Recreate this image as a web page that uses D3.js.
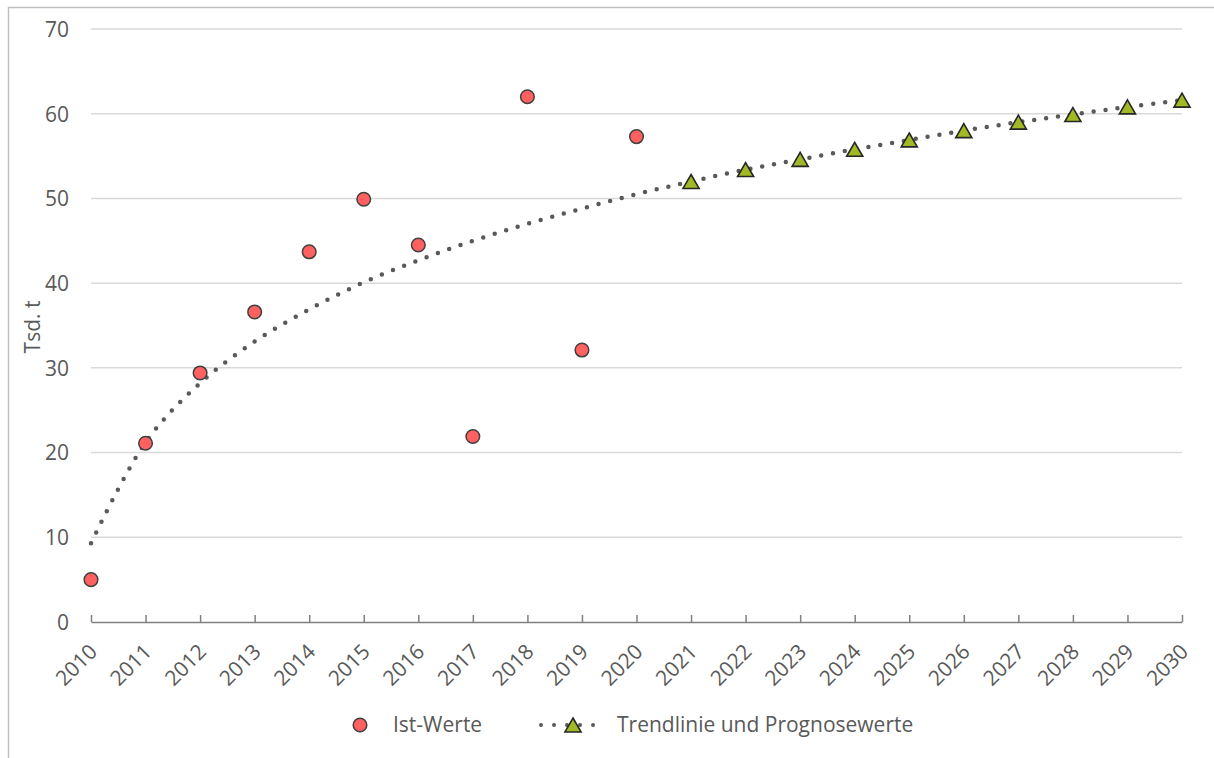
<!DOCTYPE html>
<html><head><meta charset="utf-8">
<script src="https://cdn.jsdelivr.net/npm/d3@7"></script>
<style>body{margin:0;background:#fff}svg{display:block}text{font-family:"Open Sans","Noto Sans",sans-serif;fill:#595959}</style>
</head><body>
<svg id="c" width="1214" height="758"></svg>
<script>
const years = d3.range(2010, 2031);
const istYears = [2010,2011,2012,2013,2014,2015,2016,2017,2018,2019,2020];
const istValues = [5.0,21.1,29.4,36.6,43.7,49.9,44.5,21.9,62.0,32.1,57.3];
const trendYears = years;
const trendValues = [9.3,21.2,28.2,33.1,36.9,40.1,42.7,45.0,47.0,48.8,50.5,52.0,53.4,54.6,55.8,56.9,58.0,59.0,59.9,60.8,61.6];
const progYears = [2021,2022,2023,2024,2025,2026,2027,2028,2029,2030];
const progValues = [52.0,53.4,54.6,55.8,56.9,58.0,59.0,59.9,60.8,61.6];
const yTicks = [0,10,20,30,40,50,60,70];
const yTitle = "Tsd. t";
const legendLabels = ["Ist-Werte","Trendlinie und Prognosewerte"];

const FS = "21px";
const svg = d3.select("#c");
// frame
svg.append("rect").attr("x",8.5).attr("y",7.5).attr("width",1300).attr("height",900)
  .attr("fill","none").attr("stroke","#bfbfbf").attr("stroke-width",1.5);

const x = d3.scaleLinear().domain([2010,2030]).range([91,1182]);
const y = d3.scaleLinear().domain([0,70]).range([622,29]);

// grid
svg.append("g").selectAll("line").data(yTicks.filter(d=>d>0)).join("line")
  .attr("x1",91).attr("x2",1182).attr("y1",d=>y(d)).attr("y2",d=>y(d))
  .attr("stroke","#d9d9d9").attr("stroke-width",1.5);

// y axis labels
const ya = svg.append("g").attr("transform","translate(69,0)")
  .call(d3.axisLeft(y).tickValues(yTicks).tickSize(0).tickPadding(0).tickFormat(d3.format("d")));
ya.select(".domain").remove();
ya.selectAll("text").style("font-size",FS).attr("fill","#595959").attr("dy","0.35em");

svg.append("text").attr("transform","translate(40,327) rotate(-90)").attr("text-anchor","middle")
  .style("font-size",FS).text(yTitle);

// x axis
const xa = svg.append("g").attr("transform","translate(0,622)")
  .call(d3.axisTop(x).tickValues(years).tickSize(7).tickFormat(d3.format("d")).tickSizeOuter(0));
xa.select(".domain").attr("stroke","#808080").attr("stroke-width",1.5);
xa.selectAll(".tick line").attr("stroke","#808080").attr("stroke-width",1.5);
xa.selectAll("text").style("font-size",FS).attr("fill","#595959")
  .attr("text-anchor","end").attr("dy",0)
  .attr("transform","translate(7,31) rotate(-45)").attr("y",0).attr("x",0);

// trend line
const line = d3.line().x((d,i)=>x(trendYears[i])).y(d=>y(d)).curve(d3.curveCatmullRom.alpha(0.5));
svg.append("path").datum(trendValues).attr("d",line).attr("fill","none")
  .attr("stroke","#595959").attr("stroke-width",4.5).attr("stroke-linecap","round")
  .attr("stroke-dasharray","0 12");

// ist points
svg.append("g").selectAll("circle").data(istValues).join("circle")
  .attr("cx",(d,i)=>x(istYears[i])).attr("cy",d=>y(d)).attr("r",6.8)
  .attr("fill","#ff6161").attr("stroke","#404040").attr("stroke-width",1.5);

// prognose triangles
const tri = d3.symbol().type(d3.symbolTriangle).size(112);
svg.append("g").selectAll("path").data(progValues).join("path")
  .attr("d",tri).attr("transform",(d,i)=>`translate(${x(progYears[i])},${y(d)+2.3})`)
  .attr("fill","#a3b825").attr("stroke","#262626").attr("stroke-width",1.6);

// legend
const ly = 725;
svg.append("circle").attr("cx",360).attr("cy",ly).attr("r",6.8)
  .attr("fill","#ff6161").attr("stroke","#404040").attr("stroke-width",1.5);
svg.append("text").attr("x",393).attr("y",ly+7).style("font-size",FS).text(legendLabels[0]);
svg.append("line").attr("x1",541).attr("x2",606).attr("y1",ly).attr("y2",ly)
  .attr("stroke","#595959").attr("stroke-width",4).attr("stroke-linecap","round").attr("stroke-dasharray","0 13");
svg.append("path").attr("d",tri).attr("transform",`translate(573,${ly+2.3})`)
  .attr("fill","#a3b825").attr("stroke","#262626").attr("stroke-width",1.6);
svg.append("text").attr("x",617).attr("y",ly+7).style("font-size",FS).text(legendLabels[1]);
</script>
</body></html>
